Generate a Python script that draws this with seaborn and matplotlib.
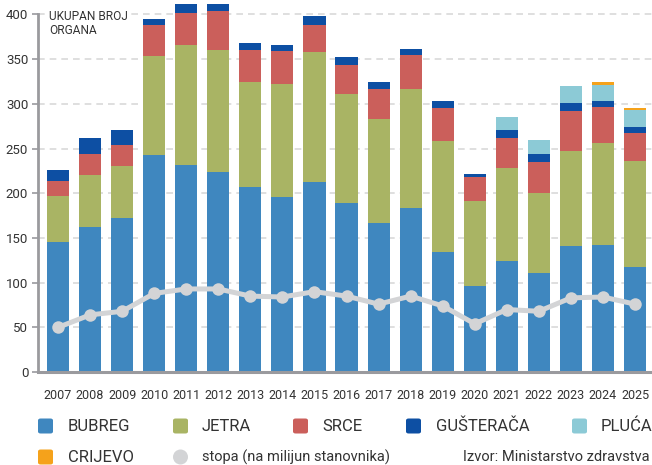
import numpy as np
import pandas as pd
import matplotlib
matplotlib.use("Agg")
import matplotlib.pyplot as plt
from matplotlib.patches import FancyBboxPatch, Ellipse
import seaborn as sns

years = ["2007", "2008", "2009", "2010", "2011", "2012", "2013", "2014", "2015", "2016",
         "2017", "2018", "2019", "2020", "2021", "2022", "2023", "2024", "2025"]
bubreg = [145, 162, 172, 243, 232, 224, 207, 196, 213, 189, 167, 184, 134, 96, 124, 111, 141, 142, 118]
jetra = [52, 58, 59, 110, 134, 136, 117, 126, 145, 122, 116, 133, 124, 95, 104, 89, 106, 114, 118]
srce = [17, 24, 23, 35, 36, 44, 36, 37, 30, 32, 34, 38, 37, 27, 34, 35, 45, 40, 31]
gusteraca = [12, 18, 17, 7, 12, 10, 8, 7, 10, 9, 8, 6, 8, 4, 9, 9, 9, 7, 7]
pluca = [0, 0, 0, 0, 0, 0, 0, 0, 0, 0, 0, 0, 0, 0, 14, 16, 19, 18, 19]
crijevo = [0, 0, 0, 0, 0, 0, 0, 0, 0, 0, 0, 0, 0, 0, 0, 0, 0, 4, 2]
stopa = [50, 64, 68, 88, 93, 93, 85, 84, 90, 85, 76, 85, 74, 54, 70, 68, 83, 84, 76]

series_names = ["BUBREG", "JETRA", "SRCE", "GUŠTERAČA", "PLUĆA", "CRIJEVO"]
series_values = [bubreg, jetra, srce, gusteraca, pluca, crijevo]
colors = ["#3f87bf", "#a9b464", "#cb5f5b", "#0d4fa3", "#8ccad6", "#f5a21b"]
line_color = "#d3d4d6"
text_color = "#333333"
axis_color = "#9a9a9e"

sns.set_theme(style="white")
plt.rcParams["font.family"] = ["Roboto", "DejaVu Sans"]

W, H = 652, 465
fig = plt.figure(figsize=(W / 100, H / 100), dpi=100)
y0_px, ytop_px = 372.1, 4.0
ax = fig.add_axes([38 / W, (H - y0_px) / H, (W - 38) / W, (y0_px - ytop_px) / H])

df = pd.DataFrame({"year": years})
bottom = np.zeros(len(years))
for name, vals, col in zip(series_names, series_values, colors):
    df[name] = vals
    sns.barplot(data=df, x="year", y=name, bottom=bottom.copy(), color=col,
                saturation=1, width=0.69, ax=ax, zorder=2, linewidth=0, errorbar=None)
    bottom += np.array(vals)

sns.lineplot(x=np.arange(len(years)), y=stopa, ax=ax, color=line_color, linewidth=3.6,
             marker="o", markersize=9, markeredgewidth=0, markerfacecolor=line_color, zorder=4)

ax.set_xlim(-0.625, len(years) - 1 + 0.53)
ax.set_ylim(0, 411.7)
ax.set_yticks(np.arange(0, 401, 50))
ax.set_xlabel("")
ax.set_ylabel("")
ax.set_axisbelow(True)
ax.yaxis.grid(True, color="#d9d9d9", linestyle=(0, (4, 3)), linewidth=1.2, zorder=0)
ax.xaxis.grid(False)
for s in ["top", "right"]:
    ax.spines[s].set_visible(False)
ax.spines["left"].set_bounds(0, 400)
ax.spines["left"].set_color(axis_color)
ax.spines["left"].set_linewidth(2)
ax.spines["bottom"].set_color(axis_color)
ax.spines["bottom"].set_linewidth(2.2)
ax.spines["bottom"].set_zorder(5)
ax.tick_params(axis="y", which="both", left=True, length=4, width=1.2, color=axis_color,
               labelsize=9.5, labelcolor=text_color, pad=3)
ax.tick_params(axis="x", which="both", bottom=False, labelsize=9, labelcolor=text_color, pad=6.5)

fig.text(49 / W, 1 - 10.5 / H, "UKUPAN BROJ\nORGANA", ha="left", va="top", fontsize=8.6,
         color=text_color, linespacing=1.1,
         bbox=dict(facecolor="white", edgecolor="none", pad=2.5), zorder=10)

# legend
def px(x, y):
    return x / W, 1 - y / H

row1, row2 = 426, 457
sq = 15
entries = [
    (38, row1, colors[0], "BUBREG", 68, "sq"),
    (173, row1, colors[1], "JETRA", 202, "sq"),
    (293, row1, colors[2], "SRCE", 322, "sq"),
    (406, row1, colors[3], "GUŠTERAČA", 436, "sq"),
    (572, row1, colors[4], "PLUĆA", 601, "sq"),
    (38, row2, colors[5], "CRIJEVO", 68, "sq"),
    (173, row2, line_color, "stopa (na milijun stanovnika)", 202, "circ"),
]
for x, y, col, label, tx, kind in entries:
    if kind == "sq":
        p = FancyBboxPatch(px(x, y + sq / 2), sq / W, sq / H,
                           boxstyle="round,pad=0,rounding_size=0.004",
                           transform=fig.transFigure, facecolor=col, edgecolor="none")
        fig.patches.append(p)
    else:
        e = Ellipse(px(x + sq / 2, y), sq / W, sq / H, transform=fig.transFigure,
                    facecolor=col, edgecolor="none")
        fig.patches.append(e)
    fs = 12 if kind == "sq" else 10.5
    fig.text(*px(tx, y), label, ha="left", va="center", fontsize=fs, color=text_color)

fig.text(*px(650, row2), "Izvor: Ministarstvo zdravstva", ha="right", va="center",
         fontsize=10.5, color=text_color)

fig.savefig("out.png", dpi=100)
